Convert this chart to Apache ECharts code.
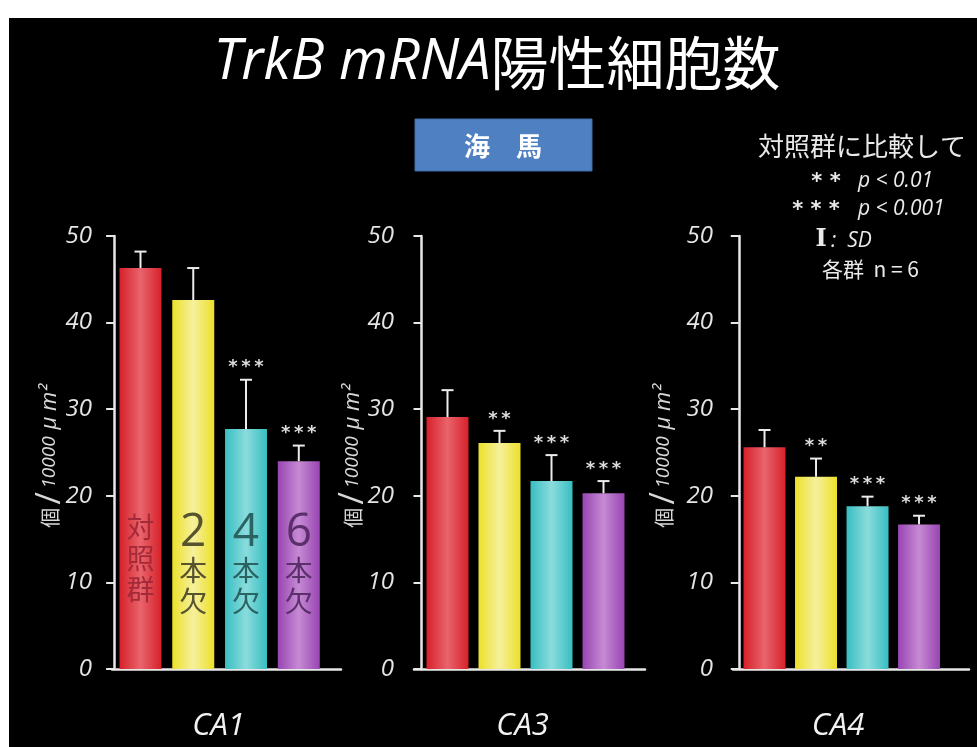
<!DOCTYPE html>
<html>
<head>
<meta charset="utf-8">
<script src="https://cdn.jsdelivr.net/npm/echarts@6/dist/echarts.min.js"></script>
<style>
  html, body { margin: 0; padding: 0; background: #ffffff; }
  #frame { position: absolute; left: 9px; top: 18px; width: 968px; height: 729px; background: #000; }
  #chart { position: absolute; left: 0; top: 0; width: 977px; height: 747px; }
</style>
</head>
<body>
<div id="frame"></div>
<div id="chart"></div>
<script>
// TrkB mRNA positive cells in hippocampal subfields (mean ± SD, n = 6 per group)
const regions = ['CA1', 'CA3', 'CA4'];
const groups = ['対照群', '2本欠', '4本欠', '6本欠'];
const unitText = '{k|個} {s|/} {n|10000}  {u|μ m²}';

const meanCA1 = [46.3, 42.6, 27.7, 24.0];
const sdCA1   = [1.9, 3.7, 5.7, 1.8];
const sigCA1  = ['', '', '***', '***'];

const meanCA3 = [29.1, 26.1, 21.7, 20.3];
const sdCA3   = [3.1, 1.4, 3.0, 1.4];
const sigCA3  = ['', '**', '***', '***'];

const meanCA4 = [25.6, 22.2, 18.8, 16.7];
const sdCA4   = [2.0, 2.1, 1.1, 1.0];
const sigCA4  = ['', '**', '***', '***'];

const yTicks = [0, 10, 20, 30, 40, 50];

const means = [meanCA1, meanCA3, meanCA4];
const sds = [sdCA1, sdCA3, sdCA4];
const sigs = [sigCA1, sigCA3, sigCA4];

// panel layout: grid box and x-range chosen so bars sit in evenly spaced slots
const panels = [
  { left: 112, width: 229, min: -0.04, max: 4.30, namePad: 16, unitGap: 62 },
  { left: 414, width: 231, min: -0.144, max: 4.298, namePad: 14, unitGap: 61 },
  { left: 733, width: 236, min: -0.112, max: 4.47, namePad: 26, unitGap: 69 }
];
const gridTop = 236, gridHeight = 444;

// bar fills: lighter in the middle, like lit cylinders
function barFill(edge, mid) {
  return new echarts.graphic.LinearGradient(0, 0, 1, 0, [
    { offset: 0, color: edge },
    { offset: 0.5, color: mid },
    { offset: 1, color: edge }
  ]);
}
const barColors = [
  barFill('#d6212a', '#e9646c'),
  barFill('#ece02a', '#f6f09c'),
  barFill('#38bec2', '#8adcdc'),
  barFill('#9845b2', '#c68ad4')
];
const groupLabelColors = ['#a52a38', '#57532e', '#2a6462', '#5b2f6a'];
const groupLabelGap = [64, 52, 52, 52];

function groupLabel(name, i) {
  const col = groupLabelColors[i];
  if (i === 0) {
    return {
      show: true, position: 'insideBottom', distance: groupLabelGap[i],
      formatter: name.split('').map(c => '{k|' + c + '}').join('\n'),
      rich: { k: { fontSize: 28, lineHeight: 31, color: col, fontFamily: 'Noto Sans CJK JP' } }
    };
  }
  const chars = name.split('');
  return {
    show: true, position: 'insideBottom', distance: groupLabelGap[i],
    formatter: '{d|' + chars[0] + '}\n{k|' + chars[1] + '}\n{k|' + chars[2] + '}',
    rich: {
      d: { fontSize: 46, lineHeight: 44, color: col, fontFamily: 'Open Sans' },
      k: { fontSize: 28, lineHeight: 31, color: col, fontFamily: 'Noto Sans CJK JP' }
    }
  };
}

const grids = [], xAxes = [], yAxes = [], series = [], unitLabels = [];
panels.forEach((p, pi) => {
  grids.push({ left: p.left, top: gridTop, width: p.width, height: gridHeight });
  xAxes.push({
    type: 'value', gridIndex: pi, min: p.min, max: p.max,
    axisLine: { show: true, onZero: false, lineStyle: { color: '#e8e8e8', width: 2.5 } },
    axisTick: { show: false }, axisLabel: { show: false }, splitLine: { show: false },
    name: regions[pi], nameLocation: 'middle', nameGap: 42,
    nameTextStyle: { color: '#f2f2f2', fontSize: 31, fontStyle: 'italic', fontFamily: 'Open Sans', padding: [0, p.namePad, 0, 0] }
  });
  yAxes.push({
    type: 'value', gridIndex: pi, min: yTicks[0], max: yTicks[yTicks.length - 1], interval: 10,
    axisLine: { show: true, lineStyle: { color: '#e8e8e8', width: 2.5 } },
    axisTick: { show: true, length: 8, lineStyle: { color: '#e8e8e8', width: 2 } },
    axisLabel: { color: '#e4e4e4', fontSize: 24, fontStyle: 'italic', fontFamily: 'Open Sans', margin: 20 },
    splitLine: { show: false }
  });

  // vertical unit caption beside each y axis (reads bottom to top)
  unitLabels.push({
    type: 'text', x: p.left - p.unitGap, y: gridTop + gridHeight / 2 - 2, rotation: Math.PI / 2,
    style: {
      text: unitText, textAlign: 'center', textVerticalAlign: 'middle',
      rich: {
        k: { fontSize: 20, fill: '#d8d8d8', fontFamily: 'Noto Sans CJK JP' },
        s: { fontSize: 34, fill: '#d8d8d8', fontFamily: 'Open Sans' },
        n: { fontSize: 19, fill: '#d8d8d8', fontStyle: 'italic', fontFamily: 'Open Sans' },
        u: { fontSize: 22, fill: '#d8d8d8', fontStyle: 'italic', fontFamily: 'Open Sans' }
      }
    }
  });

  series.push({
    type: 'bar', xAxisIndex: pi, yAxisIndex: pi, barWidth: 42,
    data: means[pi].map((v, i) => ({
      value: [i + 0.5, v],
      itemStyle: { color: barColors[i] },
      label: pi === 0 ? groupLabel(groups[i], i) : { show: false }
    }))
  });

  const sig = sigs[pi];
  series.push({
    type: 'custom', xAxisIndex: pi, yAxisIndex: pi, z: 5,
    data: means[pi].map((v, i) => [i + 0.5, v, sds[pi][i]]),
    renderItem: function (params, api) {
      const x = api.value(0), m = api.value(1), s = api.value(2);
      const base = api.coord([x, m]);
      const top = api.coord([x, m + s]);
      const st = { stroke: '#ececec', lineWidth: 2 };
      const children = [
        { type: 'line', shape: { x1: base[0], y1: base[1], x2: top[0], y2: top[1] }, style: st },
        { type: 'line', shape: { x1: top[0] - 6, y1: top[1], x2: top[0] + 6, y2: top[1] }, style: st }
      ];
      const mark = sig[params.dataIndex];
      if (mark) {
        children.push({
          type: 'text',
          style: {
            text: mark.split('').join('\u2009'), x: top[0], y: top[1] - 3,
            textAlign: 'center', textVerticalAlign: 'bottom',
            fill: '#dcdcdc', fontSize: 18, fontWeight: 'bold', fontFamily: 'DejaVu Sans'
          }
        });
      }
      return { type: 'group', children: children };
    }
  });
});

function note(text, x, y, align, size, extra) {
  return {
    type: 'text', x: x, y: y,
    style: Object.assign({
      text: text, textAlign: align, textVerticalAlign: 'middle',
      fill: '#eaeaea', fontSize: size, fontFamily: 'Noto Sans CJK JP'
    }, extra || {})
  };
}

const chart = echarts.init(document.getElementById('chart'), null, { renderer: 'canvas' });
chart.setOption({
  backgroundColor: 'transparent',
  animation: false,
  grid: grids,
  xAxis: xAxes,
  yAxis: yAxes,
  series: series,
  graphic: unitLabels.concat([
    {
      type: 'text', x: 497, y: 63,
      style: {
        text: '{a|TrkB mRNA}{b|陽性細胞数}',
        textAlign: 'center', textVerticalAlign: 'middle',
        rich: {
          a: { fontSize: 56, fontStyle: 'italic', fontFamily: 'Open Sans', fill: '#ffffff' },
          b: { fontSize: 58, fontFamily: 'Noto Sans CJK JP', fill: '#ffffff' }
        }
      }
    },
    {
      type: 'rect', shape: { x: 415, y: 119, width: 177, height: 52 },
      style: { fill: '#4f80c1', stroke: '#3f6ea9', lineWidth: 1 }
    },
    note('海　馬', 503, 146, 'center', 26, { fill: '#ffffff', fontWeight: 'bold' }),
    note('対照群に比較して', 862, 146, 'center', 26),
    note('* *', 826, 183, 'center', 21, { fontWeight: 'bold', fontFamily: 'DejaVu Sans' }),
    note('p < 0.01', 858, 181, 'left', 21, { fontStyle: 'italic', fontFamily: 'Open Sans' }),
    note('* * *', 816, 211, 'center', 21, { fontWeight: 'bold', fontFamily: 'DejaVu Sans' }),
    note('p < 0.001', 858, 209, 'left', 21, { fontStyle: 'italic', fontFamily: 'Open Sans' }),
    note('I', 821, 240, 'center', 24, { fontWeight: 'bold', fontFamily: 'DejaVu Serif' }),
    note(':  SD', 831, 241, 'left', 21, { fontStyle: 'italic', fontFamily: 'Open Sans' }),
    note('各群  n = 6', 822, 269, 'left', 21)
  ])
});
</script>
</body>
</html>
